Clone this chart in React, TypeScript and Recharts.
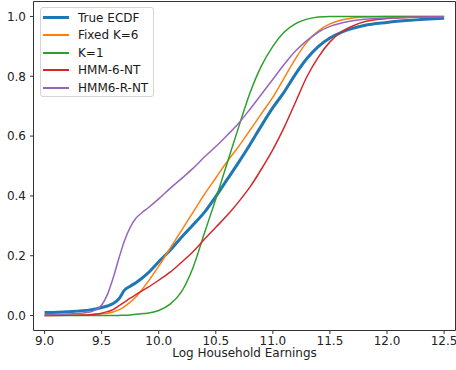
import React from 'react';
import {
  LineChart,
  Line,
  XAxis,
  YAxis,
  Legend,
  ReferenceArea,
} from 'recharts';

const logEarnings = [
  9.0, 9.2, 9.4, 9.45, 9.5, 9.55, 9.6, 9.65, 9.7, 9.75, 9.8, 9.85, 9.9, 10.0, 10.1, 10.2, 10.3, 10.4,
  10.5, 10.6, 10.7, 10.8, 10.9, 11.0, 11.1, 11.2, 11.3, 11.4, 11.5, 11.6, 11.7, 11.8, 12.0, 12.2, 12.5,
];

const trueEcdf = [
  0.010, 0.013, 0.019, 0.022, 0.027, 0.032, 0.040, 0.055, 0.085, 0.098, 0.110, 0.124, 0.140, 0.180,
  0.218, 0.262, 0.303, 0.345, 0.398, 0.455, 0.512, 0.572, 0.635, 0.695, 0.748, 0.808, 0.860, 0.900,
  0.928, 0.947, 0.960, 0.970, 0.980, 0.987, 0.994,
];

const fixedK6 = [
  0.000, 0.001, 0.003, 0.004, 0.006, 0.008, 0.012, 0.019, 0.030, 0.045, 0.062, 0.085, 0.110, 0.165,
  0.225, 0.285, 0.345, 0.405, 0.460, 0.515, 0.565, 0.620, 0.675, 0.730, 0.795, 0.860, 0.915, 0.952,
  0.975, 0.988, 0.995, 0.998, 1.000, 1.000, 1.000,
];

const k1 = [
  0.000, 0.000, 0.000, 0.000, 0.000, 0.000, 0.000, 0.0005, 0.001, 0.002, 0.004, 0.006, 0.008, 0.017,
  0.038, 0.080, 0.160, 0.275, 0.390, 0.510, 0.630, 0.745, 0.835, 0.900, 0.948, 0.976, 0.991, 0.998,
  1.000, 1.000, 1.000, 1.000, 1.000, 1.000, 1.000,
];

const hmm6NT = [
  0.000, 0.001, 0.003, 0.005, 0.008, 0.013, 0.020, 0.032, 0.045, 0.058, 0.070, 0.082, 0.093, 0.118,
  0.145, 0.178, 0.213, 0.255, 0.295, 0.335, 0.380, 0.430, 0.490, 0.555, 0.630, 0.715, 0.800, 0.865,
  0.915, 0.948, 0.968, 0.982, 0.993, 0.997, 0.999,
];

const hmm6RNT = [
  0.003, 0.005, 0.012, 0.020, 0.035, 0.070, 0.125, 0.190, 0.250, 0.295, 0.325, 0.343, 0.358, 0.390,
  0.425, 0.458, 0.492, 0.530, 0.565, 0.603, 0.643, 0.690, 0.740, 0.790, 0.840, 0.885, 0.920, 0.948,
  0.967, 0.978, 0.986, 0.991, 0.995, 0.997, 0.999,
];

const xTicks = [9.0, 9.5, 10.0, 10.5, 11.0, 11.5, 12.0, 12.5];
const yTicks = [0, 0.2, 0.4, 0.6, 0.8, 1.0];

const X_DOMAIN: [number, number] = [8.903, 12.6];
const Y_DOMAIN: [number, number] = [-0.05, 1.05];

const series = [
  { key: 'trueEcdf', name: 'True ECDF', color: '#1f77b4', width: 3 },
  { key: 'fixedK6', name: 'Fixed K=6', color: '#ff7f0e', width: 1.5 },
  { key: 'k1', name: 'K=1', color: '#2ca02c', width: 1.5 },
  { key: 'hmm6NT', name: 'HMM-6-NT', color: '#d62728', width: 1.5 },
  { key: 'hmm6RNT', name: 'HMM6-R-NT', color: '#9467bd', width: 1.5 },
];

const FONT = '"DejaVu Sans", sans-serif';

// legend drawn like the matplotlib box in the upper left
const LegendBox = () => (
  <div
    style={{
      position: 'relative',
      width: 114,
      height: 90,
      boxSizing: 'border-box',
      border: '1px solid #d5d5d5',
      borderRadius: 3,
      background: 'rgba(255,255,255,0.85)',
      fontFamily: FONT,
      fontSize: 12,
      color: '#1a1a1a',
    }}
  >
    {series.map((s, i) => (
      <div
        key={s.key}
        style={{
          position: 'absolute',
          left: 2,
          top: 1 + i * 17.5,
          height: 17.5,
          display: 'flex',
          alignItems: 'center',
          whiteSpace: 'nowrap',
        }}
      >
        <span
          style={{
            display: 'inline-block',
            width: 26,
            height: s.width === 3 ? 3 : 2,
            background: s.color,
            marginRight: 9,
          }}
        />
        <span>{s.name}</span>
      </div>
    ))}
  </div>
);

const App: React.FC = () => {
  const data = logEarnings.map((x, i) => ({
    x,
    trueEcdf: trueEcdf[i],
    fixedK6: fixedK6[i],
    k1: k1[i],
    hmm6NT: hmm6NT[i],
    hmm6RNT: hmm6RNT[i],
  }));

  return (
    <div style={{ position: 'absolute', left: 0, top: 0, width: 456, height: 370, background: '#fff' }}>
      <LineChart
        width={456}
        height={370}
        data={data}
        margin={{ top: 1.5, right: 0.5, bottom: 0, left: 0 }}
        style={{ fontFamily: FONT }}
      >
        <XAxis
          dataKey="x"
          type="number"
          domain={X_DOMAIN}
          allowDataOverflow
          ticks={xTicks}
          interval={0}
          tickFormatter={(v: number) => v.toFixed(1)}
          height={39.5}
          tickSize={3.5}
          tickMargin={2}
          axisLine={false}
          tickLine={{ stroke: '#333' }}
          tick={{ fill: '#222', fontSize: 12, fontFamily: FONT }}
          label={{
            value: 'Log Household Earnings',
            position: 'insideBottom',
            offset: 13,
            fill: '#222',
            fontSize: 12,
            fontFamily: FONT,
          }}
        />
        <YAxis
          type="number"
          domain={Y_DOMAIN}
          allowDataOverflow
          ticks={yTicks}
          interval={0}
          tickFormatter={(v: number) => v.toFixed(1)}
          width={33.5}
          tickSize={3.5}
          tickMargin={4}
          axisLine={false}
          tickLine={{ stroke: '#333' }}
          tick={{ fill: '#222', fontSize: 12, fontFamily: FONT }}
        />
        <Legend
          layout="vertical"
          align="center"
          verticalAlign="middle"
          wrapperStyle={{ left: 40, top: 7, width: 114, height: 90 }}
          content={() => <LegendBox />}
        />
        {series.map((s) => (
          <Line
            key={s.key}
            type="monotone"
            dataKey={s.key}
            name={s.name}
            stroke={s.color}
            strokeWidth={s.width}
            dot={false}
            activeDot={false}
            isAnimationActive={false}
          />
        ))}
        <ReferenceArea
          x1={X_DOMAIN[0]}
          x2={X_DOMAIN[1]}
          y1={Y_DOMAIN[0]}
          y2={Y_DOMAIN[1]}
          fill="none"
          stroke="#333"
          strokeWidth={1}
          ifOverflow="visible"
        />
      </LineChart>
    </div>
  );
};

export default App;
